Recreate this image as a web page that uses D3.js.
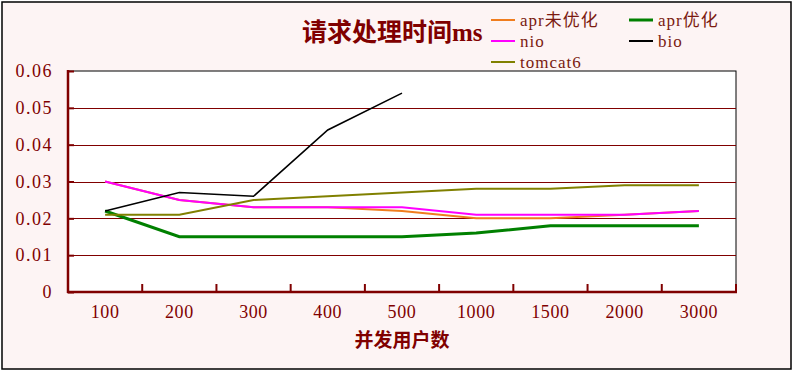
<!DOCTYPE html>
<html>
<head>
<meta charset="utf-8">
<script src="https://cdn.jsdelivr.net/npm/d3@7"></script>
<style>
  html, body { margin: 0; padding: 0; background: #fff; }
  svg { display: block; }
</style>
</head>
<body>
<div id="chart"></div>
<script>
// dades llegides del gràfic
const categories = ["100", "200", "300", "400", "500", "1000", "1500", "2000", "3000"];
const yTicks = [0, 0.01, 0.02, 0.03, 0.04, 0.05, 0.06];
const aprUnopt = [0.030, 0.025, 0.023, 0.023, 0.022, 0.020, 0.020, 0.021, 0.022];
const aprOpt = [0.022, 0.015, 0.015, 0.015, 0.015, 0.016, 0.018, 0.018, 0.018];
const nio = [0.030, 0.025, 0.023, 0.023, 0.023, 0.021, 0.021, 0.021, 0.022];
const bio = [0.022, 0.027, 0.026, 0.044, 0.054];
const tomcat6 = [0.021, 0.021, 0.025, 0.026, 0.027, 0.028, 0.028, 0.029, 0.029];

const series = [
    { name: "apr未优化", values: aprUnopt, color: "#f07d1e", width: 2 },
    { name: "apr优化", values: aprOpt, color: "#008000", width: 3 },
    { name: "nio", values: nio, color: "#ff00ff", width: 2 },
    { name: "bio", values: bio, color: "#000000", width: 1.6 },
    { name: "tomcat6", values: tomcat6, color: "#808000", width: 2 }
];

const width = 793, height = 371;
const dark = "#800000";
const serif = "'Liberation Serif', 'Noto Sans CJK SC', serif";

const svg = d3.select("#chart").append("svg")
    .attr("width", width)
    .attr("height", height);

// fons i marc exterior
svg.append("rect")
    .attr("x", 2).attr("y", 2)
    .attr("width", 789).attr("height", 367)
    .attr("fill", "#fdf4f4")
    .attr("stroke", "#000")
    .attr("stroke-width", 1.5);

const x = d3.scaleBand().domain(categories).range([68, 736]);
const y = d3.scaleLinear().domain([0, 0.06]).range([292, 71]);

// àrea de dibuix
svg.append("rect")
    .attr("x", 68).attr("y", 71)
    .attr("width", 668).attr("height", 221)
    .attr("fill", "#fff")
    .attr("stroke", "#000")
    .attr("stroke-width", 1);

// línies de quadrícula
svg.append("g")
    .selectAll("line")
    .data(yTicks.slice(1, -1))
    .join("line")
    .attr("x1", 68).attr("x2", 736)
    .attr("y1", d => Math.round(y(d)) + 0.5)
    .attr("y2", d => Math.round(y(d)) + 0.5)
    .attr("stroke", dark)
    .attr("stroke-width", 1);

// eix Y
const yAxis = d3.axisLeft(y)
    .tickValues(yTicks)
    .tickSize(-6)
    .tickPadding(15)
    .tickFormat(d => d === 0 ? "0" : d3.format(".2f")(d));

const gy = svg.append("g")
    .attr("transform", "translate(68,0)")
    .call(yAxis);
gy.select(".domain").remove();
gy.selectAll(".tick line").attr("stroke", dark).attr("stroke-width", 2);
gy.selectAll(".tick text")
    .attr("fill", dark)
    .style("font-family", serif)
    .style("font-size", "18px")
    .style("letter-spacing", "1.5px");

// eix X
const gx = svg.append("g")
    .attr("transform", "translate(0,292)")
    .call(d3.axisBottom(x).tickSize(0).tickPadding(13));
gx.select(".domain").remove();
gx.selectAll(".tick text")
    .attr("fill", dark)
    .style("font-family", serif)
    .style("font-size", "18px")
    .style("letter-spacing", "0.6px");

// marques entre categories
svg.append("g")
    .selectAll("line")
    .data(categories)
    .join("line")
    .attr("x1", d => x(d) + x.bandwidth())
    .attr("x2", d => x(d) + x.bandwidth())
    .attr("y1", 292).attr("y2", 284)
    .attr("stroke", dark)
    .attr("stroke-width", 2);

// línies dels eixos
svg.append("line")
    .attr("x1", 68).attr("x2", 68)
    .attr("y1", 70).attr("y2", 293)
    .attr("stroke", dark).attr("stroke-width", 2.5);
svg.append("line")
    .attr("x1", 67).attr("x2", 737)
    .attr("y1", 292).attr("y2", 292)
    .attr("stroke", dark).attr("stroke-width", 2.5);

// sèries
const line = d3.line()
    .x((d, i) => x(categories[i]) + x.bandwidth() / 2)
    .y(d => y(d));

svg.append("g")
    .selectAll("path")
    .data(series)
    .join("path")
    .attr("d", d => line(d.values))
    .attr("fill", "none")
    .attr("stroke", d => d.color)
    .attr("stroke-width", d => d.width)
    .attr("stroke-linejoin", "miter");

// títol
svg.append("text")
    .attr("x", 302).attr("y", 41)
    .attr("fill", dark)
    .style("font-family", serif)
    .style("font-weight", "bold")
    .style("font-size", "25px")
    .text("请求处理时间ms");

// títol eix X
svg.append("text")
    .attr("x", 402).attr("y", 347)
    .attr("text-anchor", "middle")
    .attr("fill", dark)
    .style("font-family", "'Noto Sans CJK SC', sans-serif")
    .style("font-weight", "bold")
    .style("font-size", "19px")
    .text("并发用户数");

// llegenda
const legendPos = [[491, 20], [629, 20], [491, 41], [629, 41], [491, 62]];
const legend = svg.append("g")
    .selectAll("g")
    .data(series)
    .join("g")
    .attr("transform", (d, i) => `translate(${legendPos[i][0]},${legendPos[i][1]})`);

legend.append("line")
    .attr("x1", 0).attr("x2", 24)
    .attr("y1", 0).attr("y2", 0)
    .attr("stroke", d => d.color)
    .attr("stroke-width", d => d.width === 3 ? 3 : 2);

legend.append("text")
    .attr("x", 29).attr("y", 0)
    .attr("dy", "0.35em")
    .attr("fill", "#7a1a10")
    .style("font-family", serif)
    .style("font-size", "17px")
    .style("letter-spacing", "1px")
    .text(d => d.name);
</script>
</body>
</html>
